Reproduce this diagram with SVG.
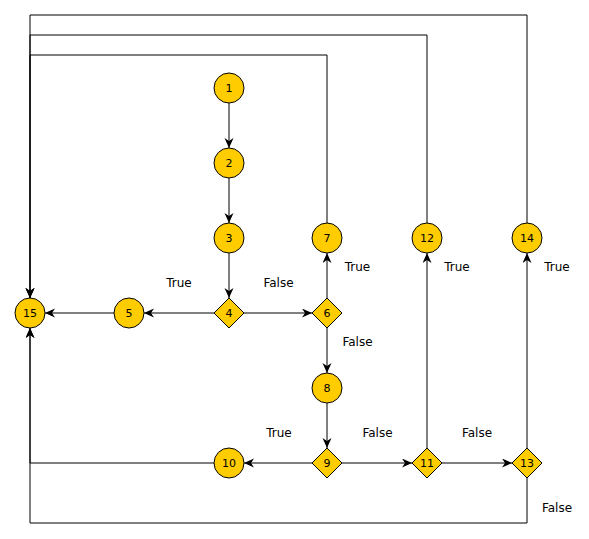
<svg xmlns="http://www.w3.org/2000/svg" width="589" height="539" viewBox="0 0 589 539">
<style>
.n circle,.n path{fill:#ffcc00;stroke:#000;stroke-width:1}
.n text{font-family:"DejaVu Sans",sans-serif;font-size:11px;text-anchor:middle;dominant-baseline:central;fill:#000}
.e path{fill:none;stroke:#000;stroke-width:1;marker-end:url(#a)}
.l{font-family:"DejaVu Sans",sans-serif;font-size:12px;text-anchor:middle;dominant-baseline:central;fill:#000}
</style>
<defs>
<marker id="a" markerUnits="userSpaceOnUse" markerWidth="12" markerHeight="10" refX="10" refY="4.5" orient="auto" viewBox="0 0 12 10">
<path d="M0,0 L10,4.5 L0,9 L3,4.5 Z" fill="#000"/>
</marker>
</defs>
<rect width="589" height="539" fill="#fff"/>
<g id="connectors" class="e">
<path d="M229,103 V148"/>
<path d="M229,178 V223"/>
<path d="M229,253 V298"/>
<path d="M214,313 H144"/>
<path d="M114,313 H45"/>
<path d="M244,313 H312"/>
<path d="M327,298 V253"/>
<path d="M327,328 V373"/>
<path d="M327,403 V448"/>
<path d="M312,463 H244"/>
<path d="M342,463 H412"/>
<path d="M427,448 V253"/>
<path d="M442,463 H512"/>
<path d="M527,448 V253"/>
<path d="M327,223 V55 H30 V298"/>
<path d="M427,223 V35 H30 V298"/>
<path d="M527,223 V15 H30 V298"/>
<path d="M214,463 H30 V328"/>
<path d="M527,478 V523 H30 V328"/>
</g>
<g id="labels">
<text class="l" x="179" y="283">True</text>
<text class="l" x="278.5" y="283">False</text>
<text class="l" x="357.5" y="267">True</text>
<text class="l" x="357.5" y="342">False</text>
<text class="l" x="279" y="433">True</text>
<text class="l" x="377.5" y="433">False</text>
<text class="l" x="457" y="267">True</text>
<text class="l" x="477" y="433">False</text>
<text class="l" x="557" y="267">True</text>
<text class="l" x="557" y="508">False</text>
</g>
<g id="n1" class="n"><circle cx="229" cy="88" r="15"/><text x="229" y="88">1</text></g>
<g id="n2" class="n"><circle cx="229" cy="163" r="15"/><text x="229" y="163">2</text></g>
<g id="n3" class="n"><circle cx="229" cy="238" r="15"/><text x="229" y="238">3</text></g>
<g id="n4" class="n"><path d="M229,298 L244,313 L229,328 L214,313 Z"/><text x="229" y="313">4</text></g>
<g id="n5" class="n"><circle cx="129" cy="313" r="15"/><text x="129" y="313">5</text></g>
<g id="n6" class="n"><path d="M327,298 L342,313 L327,328 L312,313 Z"/><text x="327" y="313">6</text></g>
<g id="n7" class="n"><circle cx="327" cy="238" r="15"/><text x="327" y="238">7</text></g>
<g id="n8" class="n"><circle cx="327" cy="388" r="15"/><text x="327" y="388">8</text></g>
<g id="n9" class="n"><path d="M327,448 L342,463 L327,478 L312,463 Z"/><text x="327" y="463">9</text></g>
<g id="n10" class="n"><circle cx="229" cy="463" r="15"/><text x="229" y="463">10</text></g>
<g id="n11" class="n"><path d="M427,448 L442,463 L427,478 L412,463 Z"/><text x="427" y="463">11</text></g>
<g id="n12" class="n"><circle cx="427" cy="238" r="15"/><text x="427" y="238">12</text></g>
<g id="n13" class="n"><path d="M527,448 L542,463 L527,478 L512,463 Z"/><text x="527" y="463">13</text></g>
<g id="n14" class="n"><circle cx="527" cy="238" r="15"/><text x="527" y="238">14</text></g>
<g id="n15" class="n"><circle cx="30" cy="313" r="15"/><text x="30" y="313">15</text></g>
</svg>
